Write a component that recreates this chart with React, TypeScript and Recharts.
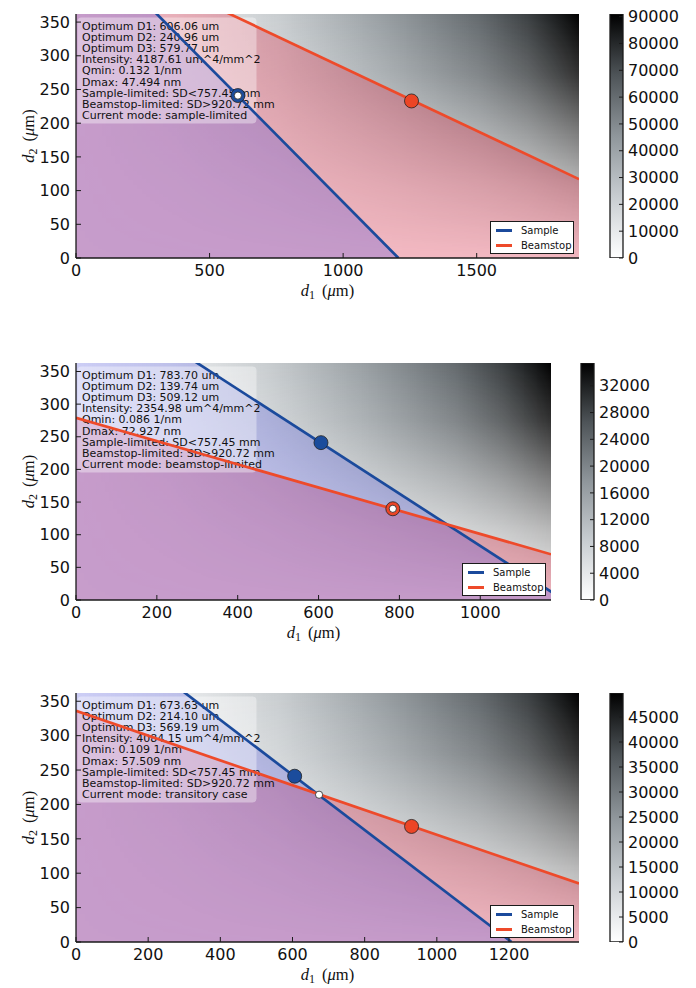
import React from "react";
import {
  ComposedChart, Area, Line, Scatter, Bar, XAxis, YAxis, ReferenceArea, Legend, Label,
} from "recharts";

// sample-limit line and sample spot are the same in every panel
const sampleLine = [{ d1: 0, d2: 483 }, { d1: 1207, d2: 0 }];
const sampleSpot = [{ d1: 606, d2: 241 }];
const yTicks = [0, 50, 100, 150, 200, 250, 300, 350];
const legendItems = [
  { name: "Sample", color: "#1b4a9c" },
  { name: "Beamstop", color: "#ee4a2a" },
];

// panel 1 - sample-limited
const beamLine1 = [{ d1: 0, d2: 470 }, { d1: 1883, d2: 117 }];
const beamSpot1 = [{ d1: 1256, d2: 233 }];
const optimum1 = [{ d1: 606.06, d2: 240.96 }];
const xTicks1 = [0, 500, 1000, 1500];
const cTicks1 = [0, 10000, 20000, 30000, 40000, 50000, 60000, 70000, 80000, 90000];
const range1 = { xMax: 1883, yMax: 362, cMax: 91000 };
const info1 = [
  "Optimum D1: 606.06 um",
  "Optimum D2: 240.96 um",
  "Optimum D3: 579.77 um",
  "Intensity: 4187.61 um^4/mm^2",
  "Qmin: 0.132 1/nm",
  "Dmax: 47.494 nm",
  "Sample-limited: SD<757.45 mm",
  "Beamstop-limited: SD>920.72 mm",
  "Current mode: sample-limited",
];

// panel 2 - beamstop-limited
const beamLine2 = [{ d1: 0, d2: 279 }, { d1: 1175, d2: 70 }];
const beamSpot2 = [{ d1: 783.7, d2: 139.74 }];
const optimum2 = [{ d1: 783.7, d2: 139.74 }];
const xTicks2 = [0, 200, 400, 600, 800, 1000];
const cTicks2 = [0, 4000, 8000, 12000, 16000, 20000, 24000, 28000, 32000];
const range2 = { xMax: 1175, yMax: 363, cMax: 35400 };
const info2 = [
  "Optimum D1: 783.70 um",
  "Optimum D2: 139.74 um",
  "Optimum D3: 509.12 um",
  "Intensity: 2354.98 um^4/mm^2",
  "Qmin: 0.086 1/nm",
  "Dmax: 72.927 nm",
  "Sample-limited: SD<757.45 mm",
  "Beamstop-limited: SD>920.72 mm",
  "Current mode: beamstop-limited",
];

// panel 3 - transitory case
const beamLine3 = [{ d1: 0, d2: 336 }, { d1: 1394, d2: 85 }];
const beamSpot3 = [{ d1: 930, d2: 168 }];
const optimum3 = [{ d1: 673.63, d2: 214.1 }];
const xTicks3 = [0, 200, 400, 600, 800, 1000, 1200];
const cTicks3 = [0, 5000, 10000, 15000, 20000, 25000, 30000, 35000, 40000, 45000];
const range3 = { xMax: 1394, yMax: 362, cMax: 49800 };
const info3 = [
  "Optimum D1: 673.63 um",
  "Optimum D2: 214.10 um",
  "Optimum D3: 569.19 um",
  "Intensity: 4084.15 um^4/mm^2",
  "Qmin: 0.109 1/nm",
  "Dmax: 57.509 nm",
  "Sample-limited: SD<757.45 mm",
  "Beamstop-limited: SD>920.72 mm",
  "Current mode: transitory case",
];

const SANS = "DejaVu Sans, sans-serif";
const SERIF = "Liberation Serif, serif";
const AX = "#1a1a1a";

const tickFont = { fontSize: 16, fill: "#111", fontFamily: SANS };

const MathLabel = ({ x, y, sub, rotate }: any) => (
  <text
    x={x} y={y} textAnchor="middle" fontFamily={SERIF} fontSize={16.5} fill="#111"
    transform={rotate ? `rotate(-90 ${x} ${y})` : undefined}
  >
    <tspan fontStyle="italic">d</tspan>
    <tspan fontSize={12} dy={3}>{sub}</tspan>
    <tspan dy={-3} dx={7}>(</tspan>
    <tspan fontStyle="italic">μ</tspan>
    <tspan>m)</tspan>
  </text>
);

const dot = (r: number, fill: string) => (p: any) => (
  <circle cx={p.cx} cy={p.cy} r={r} fill={fill} stroke="#222" strokeWidth={0.8} />
);

const renderLegend = () => (
  <div style={{ boxSizing: "border-box", border: `1.3px solid ${AX}`, background: "#fff", width: 84, height: 33, fontFamily: SANS, fontSize: 10, color: "#111", paddingTop: 1 }}>
    {legendItems.map((it) => (
      <div key={it.name} style={{ display: "flex", alignItems: "center", height: 15 }}>
        <div style={{ width: 16, height: 3, background: it.color, marginLeft: 5, marginRight: 9 }} />
        <span>{it.name}</span>
      </div>
    ))}
  </div>
);

function Panel({ id, top, plotH, plotRight, cbarLeft, range, xTicks, cTicks, beam, beamSpot, optimum, info }: any) {
  const H = plotH + 74;
  const W = plotRight + 11;
  const { xMax, yMax, cMax } = range;
  const cbar = [{ name: "I", value: cMax }];
  return (
    <>
      <div style={{ position: "absolute", left: 0, top: top - 14 }}>
        <ComposedChart width={W} height={H} margin={{ top: 14, right: 11, bottom: 10, left: 30 }}>
          <defs>
            <linearGradient id={`hx${id}`} x1="0" y1="0" x2="1" y2="0">
              <stop offset="0" stopColor="#2c3e4c" stopOpacity={0.01} />
              <stop offset="0.2" stopColor="#2c3e4c" stopOpacity={0.1} />
              <stop offset="0.4" stopColor="#283944" stopOpacity={0.25} />
              <stop offset="0.6" stopColor="#202e37" stopOpacity={0.45} />
              <stop offset="0.8" stopColor="#141d23" stopOpacity={0.66} />
              <stop offset="0.9" stopColor="#0a0f12" stopOpacity={0.8} />
              <stop offset="1" stopColor="#000" stopOpacity={1} />
            </linearGradient>
            <linearGradient id={`hy${id}`} x1="0" y1="1" x2="0" y2="0">
              <stop offset="0" stopColor="#fff" stopOpacity={0.03} />
              <stop offset="0.3" stopColor="#fff" stopOpacity={0.28} />
              <stop offset="0.5" stopColor="#fff" stopOpacity={0.5} />
              <stop offset="0.75" stopColor="#fff" stopOpacity={0.8} />
              <stop offset="1" stopColor="#fff" stopOpacity={1} />
            </linearGradient>
            <mask id={`hm${id}`} maskContentUnits="objectBoundingBox" style={{ maskType: "alpha" } as any}>
              <rect x={0} y={0} width={1} height={1} fill={`url(#hy${id})`} />
            </mask>
          </defs>
          <XAxis
            type="number" dataKey="d1" domain={[0, xMax]} allowDataOverflow ticks={xTicks} interval={0}
            height={50} tickSize={-5} tickMargin={12} tick={tickFont}
            axisLine={{ stroke: AX, strokeWidth: 1.3 }} tickLine={{ stroke: AX }}
          >
            <Label content={(p: any) => <MathLabel x={p.viewBox.x + p.viewBox.width / 2} y={p.viewBox.y + 38} sub="1" />} />
          </XAxis>
          <XAxis
            xAxisId="top" orientation="top" type="number" domain={[0, xMax]} allowDataOverflow ticks={xTicks}
            interval={0} height={0} tickSize={-5} tickFormatter={() => ""}
            axisLine={{ stroke: AX, strokeWidth: 1.3 }} tickLine={{ stroke: AX }}
          />
          <YAxis
            type="number" dataKey="d2" domain={[0, yMax]} allowDataOverflow ticks={yTicks} interval={0}
            width={46} tickSize={-5} tickMargin={11} tick={tickFont}
            axisLine={{ stroke: AX, strokeWidth: 1.3 }} tickLine={{ stroke: AX }}
          >
            <Label content={(p: any) => <MathLabel x={34} y={p.viewBox.y + p.viewBox.height / 2} sub="2" rotate />} />
          </YAxis>
          <YAxis
            yAxisId="right" orientation="right" type="number" domain={[0, yMax]} allowDataOverflow ticks={yTicks}
            interval={0} width={0} tickSize={-5} tickFormatter={() => ""}
            axisLine={{ stroke: AX, strokeWidth: 1.3 }} tickLine={{ stroke: AX }}
          />
          <ReferenceArea
            x1={0} x2={xMax} y1={0} y2={yMax}
            shape={(p: any) => (
              <rect x={p.x} y={p.y} width={p.width} height={p.height} fill={`url(#hx${id})`} mask={`url(#hm${id})`} />
            )}
          />
          <Area data={beam} dataKey="d2" type="linear" stroke="none" fill="rgb(225,32,62)" fillOpacity={0.3} isAnimationActive={false} />
          <Area data={sampleLine} dataKey="d2" type="linear" stroke="none" fill="rgb(58,64,224)" fillOpacity={0.25} isAnimationActive={false} />
          <ReferenceArea
            x1={0} x2={xMax} y1={0} y2={yMax}
            shape={(p: any) => (
              <g>
                <rect x={p.x + 1.5} y={p.y + 3.5} width={179} height={106} rx={4} fill="#fff" fillOpacity={0.38} />
                <text x={p.x + 6} y={p.y + 15.8} fontFamily={SANS} fontSize={11} fill="#111">
                  {info.map((s: string, i: number) => (
                    <tspan key={i} x={p.x + 6} dy={i === 0 ? 0 : 11.16}>{s}</tspan>
                  ))}
                </text>
              </g>
            )}
          />
          <Line data={sampleLine} dataKey="d2" type="linear" stroke={legendItems[0].color} strokeWidth={2.7} dot={false} isAnimationActive={false} />
          <Line data={beam} dataKey="d2" type="linear" stroke={legendItems[1].color} strokeWidth={2.7} dot={false} isAnimationActive={false} />
          <Scatter data={sampleSpot} dataKey="d2" shape={dot(7, "#1b4c9c")} isAnimationActive={false} />
          <Scatter data={beamSpot} dataKey="d2" shape={dot(7, "#ec4526")} isAnimationActive={false} />
          <Scatter data={optimum} dataKey="d2" shape={dot(3.6, "#fff")} isAnimationActive={false} />
          <Legend
            layout="vertical" align="center" verticalAlign="middle" content={renderLegend}
            wrapperStyle={{ left: plotRight - 89, top: 14 + plotH - 37, width: 84, height: 33 }}
          />
        </ComposedChart>
      </div>
      <div style={{ position: "absolute", left: cbarLeft - 10, top: top - 14 }}>
        <ComposedChart width={96} height={H} data={cbar} barCategoryGap={0} margin={{ top: 14, right: 0, bottom: 60, left: 10 }}>
          <defs>
            <linearGradient id={`cb${id}`} x1="0" y1="1" x2="0" y2="0">
              <stop offset="0" stopColor="#ffffff" />
              <stop offset="0.25" stopColor="#c8cdd1" />
              <stop offset="0.5" stopColor="#8f969b" />
              <stop offset="0.75" stopColor="#4e5458" />
              <stop offset="1" stopColor="#000000" />
            </linearGradient>
          </defs>
          <XAxis dataKey="name" type="category" hide />
          <YAxis
            orientation="right" type="number" domain={[0, cMax]} allowDataOverflow ticks={cTicks} interval={0}
            width={73} tickSize={-4} tickMargin={9} tick={{ ...tickFont, textAnchor: "start" }}
            axisLine={false} tickLine={{ stroke: AX }}
          />
          <Bar dataKey="value" fill={`url(#cb${id})`} stroke={AX} strokeWidth={1.3} isAnimationActive={false} />
        </ComposedChart>
      </div>
    </>
  );
}

export default function App() {
  return (
    <div style={{ position: "absolute", left: 0, top: 0, width: 696, height: 988, background: "#fff" }}>
      <Panel id={1} top={14} plotH={244} plotRight={579} cbarLeft={610} range={range1} xTicks={xTicks1} cTicks={cTicks1}
        beam={beamLine1} beamSpot={beamSpot1} optimum={optimum1} info={info1} />
      <Panel id={2} top={363} plotH={237} plotRight={551} cbarLeft={581} range={range2} xTicks={xTicks2} cTicks={cTicks2}
        beam={beamLine2} beamSpot={beamSpot2} optimum={optimum2} info={info2} />
      <Panel id={3} top={693} plotH={249} plotRight={579} cbarLeft={610} range={range3} xTicks={xTicks3} cTicks={cTicks3}
        beam={beamLine3} beamSpot={beamSpot3} optimum={optimum3} info={info3} />
    </div>
  );
}
